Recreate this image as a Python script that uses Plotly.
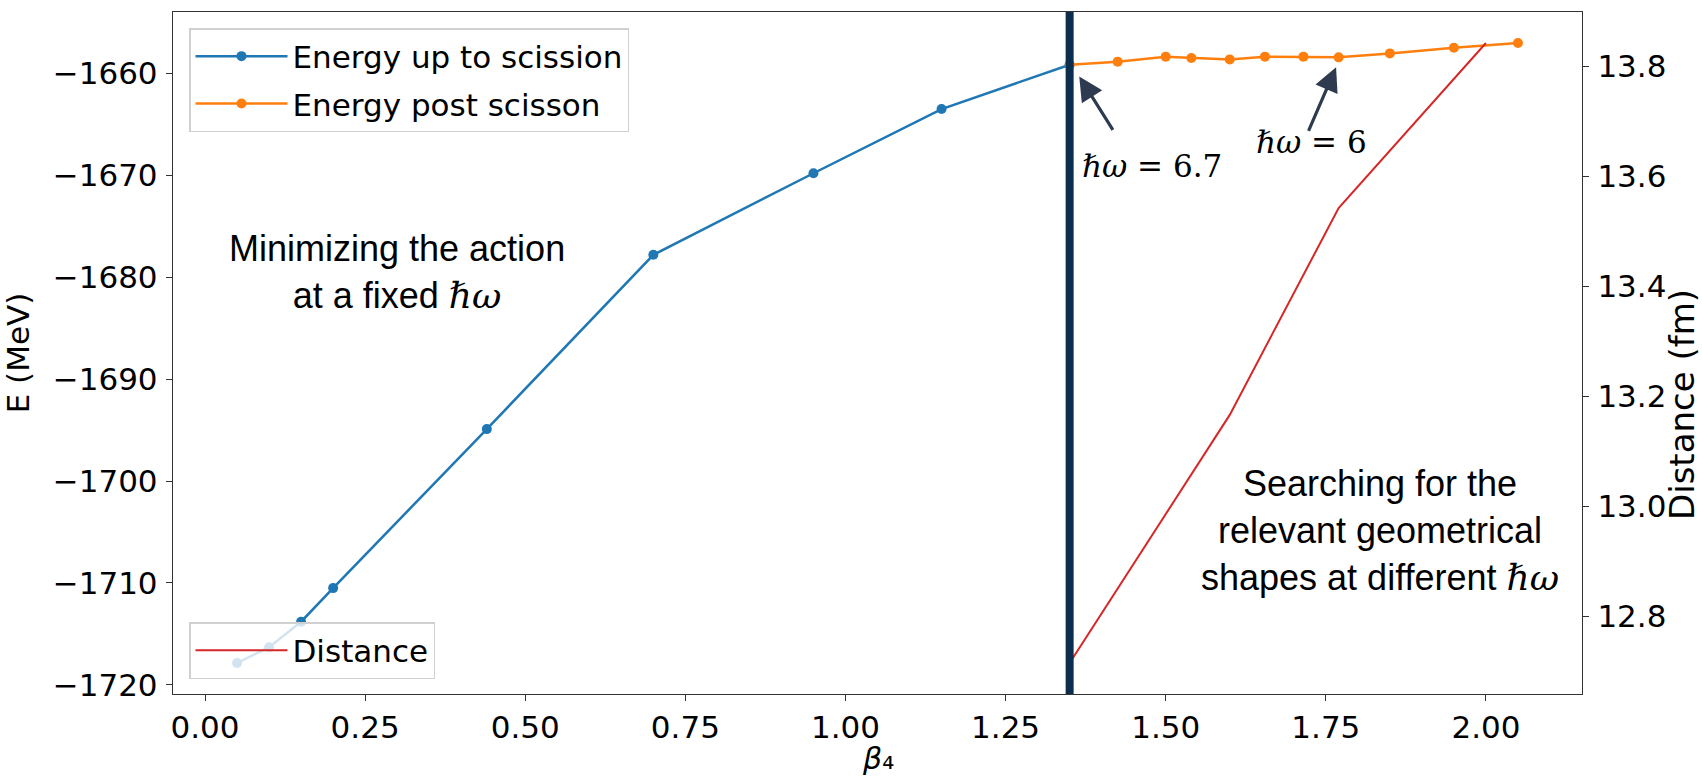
import plotly.graph_objects as go

# Energy along the path up to scission (beta_4, MeV)
beta_pre = [0.05, 0.10, 0.15, 0.20, 0.44, 0.70, 0.95, 1.15, 1.35]
energy_pre = [-1717.85, -1716.3, -1713.8, -1710.5, -1694.9, -1677.8, -1669.8, -1663.5, -1659.15]

# Energy after scission
beta_post = [1.35, 1.425, 1.50, 1.54, 1.60, 1.655, 1.715, 1.77, 1.85, 1.95, 2.05]
energy_post = [-1659.15, -1658.85, -1658.36, -1658.49, -1658.63, -1658.36, -1658.36,
               -1658.43, -1658.04, -1657.48, -1657.02]

# Distance between fragments (fm)
beta_dist = [1.35, 1.60, 1.77, 2.00]
distance = [12.715, 13.166, 13.542, 13.842]

beta_scission = 1.35

BLUE = "#1f77b4"
ORANGE = "#ff7f0e"
RED = "#d62728"
AXIS = "#333333"
FONT = "DejaVu Sans"

# plot area in pixels
L, R, T, B = 173, 1582, 12, 694
W, H = 1702, 778


def padded(values, frac=0.05):
    lo, hi = min(values), max(values)
    pad = (hi - lo) * frac
    return [lo - pad, hi + pad]


x_range = padded(beta_pre + beta_post + beta_dist)
y_range = padded(energy_pre + energy_post)
y2_range = padded(distance)

fig = go.Figure()
fig.add_trace(go.Scatter(
    x=beta_pre, y=energy_pre, mode="lines+markers", name="Energy up to scission",
    line=dict(color=BLUE, width=2.5), marker=dict(color=BLUE, size=10),
    legend="legend", legendgroup="pre"))
fig.add_trace(go.Scatter(
    x=beta_post, y=energy_post, mode="lines+markers", name="Energy post scisson",
    line=dict(color=ORANGE, width=2.5), marker=dict(color=ORANGE, size=10),
    legend="legend", legendgroup="post"))
fig.add_trace(go.Scatter(
    x=beta_dist, y=distance, mode="lines", name="Distance", yaxis="y2",
    line=dict(color=RED, width=2), legend="legend2"))

# Scission point
fig.add_shape(type="line", xref="x", yref="paper", x0=beta_scission, x1=beta_scission,
              y0=0, y1=1, line=dict(color="#0b2e4c", width=8), layer="above")

hw = "<span style='font-family:DejaVu Serif'><i>ℏω</i></span>"
annotations = [
    dict(x=397, y=272, text="Minimizing the action<br>at a fixed " + hw,
         font=dict(family="Liberation Sans", size=36, color="black")),
    dict(x=1380, y=530, text="Searching for the<br>relevant geometrical<br>shapes at different " + hw,
         font=dict(family="Liberation Sans", size=36, color="black")),
    dict(x=1152, y=166, text="<i>ℏω</i> = 6.7",
         font=dict(family="DejaVu Serif", size=31, color="black")),
    dict(x=1311, y=142, text="<i>ℏω</i> = 6",
         font=dict(family="DejaVu Serif", size=31, color="black")),
    dict(x=1682, y=405, text="Distance (fm)", textangle=-90,
         font=dict(family=FONT, size=34, color="black")),
    dict(x=(L + R) / 2, y=778, text="<i>β</i>₄", yanchor="bottom",
         font=dict(family=FONT, size=30, color="black")),
]
layout_ann = []
for a in annotations:
    a.setdefault("yanchor", "middle")
    a.update(xref="paper", yref="paper", showarrow=False, xanchor="center")
    a["x"] = (a["x"] - L) / (R - L)
    a["y"] = 1 - (a["y"] - T) / (B - T)
    layout_ann.append(a)

# Arrows pointing at the two hbar-omega values
for head, tail in [((1.365, -1660.3), (1.419, -1665.7)),
                   ((1.766, -1659.4), (1.722, -1665.8))]:
    layout_ann.append(dict(
        x=head[0], y=head[1], ax=tail[0], ay=tail[1], xref="x", yref="y",
        axref="x", ayref="y", text="", showarrow=True, arrowhead=2,
        arrowsize=1.5, arrowwidth=3.2, arrowcolor="#2e3a50"))

axis_common = dict(
    showgrid=False, zeroline=False, showline=True, linecolor=AXIS, linewidth=1.4,
    ticks="outside", ticklen=6, tickwidth=1.4, tickcolor=AXIS, automargin=False)

legend_common = dict(
    xanchor="left", bgcolor="rgba(255,255,255,0.8)", bordercolor="#d0d0d0",
    borderwidth=1.5, font=dict(family=FONT, size=31, color="black"), itemwidth=92)

fig.update_layout(
    width=W, height=H,
    margin=dict(l=L, r=W - R, t=T, b=H - B),
    paper_bgcolor="white", plot_bgcolor="white",
    font=dict(family=FONT, size=31, color="black"),
    showlegend=True,
    xaxis=dict(
        range=x_range, dtick=0.25, tick0=0, tickformat=".2f", mirror=True,
        ticklabelstandoff=0, **axis_common),
    yaxis=dict(
        range=y_range, dtick=10, tick0=0, mirror=True, ticklabelstandoff=2,
        title=dict(text="E (MeV)", standoff=14, font=dict(family=FONT, size=31)),
        **axis_common),
    yaxis2=dict(
        range=y2_range, dtick=0.2, tick0=0, tickformat=".1f", overlaying="y",
        side="right", ticklabelstandoff=2, **axis_common),
    legend=dict(x=(189 - L) / (R - L), y=1 - (28 - T) / (B - T), yanchor="top",
                tracegroupgap=4, **legend_common),
    legend2=dict(x=(189 - L) / (R - L), y=1 - (679 - T) / (B - T), yanchor="bottom",
                 **legend_common),
    annotations=layout_ann,
)

fig.write_html("out.html")
